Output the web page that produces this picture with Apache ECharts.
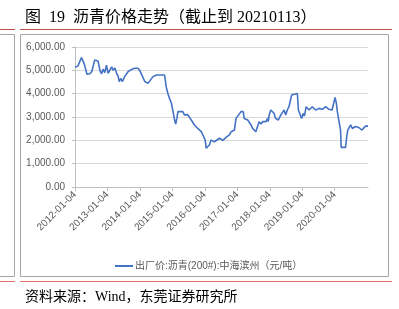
<!DOCTYPE html>
<html><head><meta charset="utf-8">
<script src="https://cdn.jsdelivr.net/npm/echarts@6/dist/echarts.min.js"></script>
<style>html,body{margin:0;padding:0;background:#fff}#c{width:399px;height:309px}</style>
</head><body><div id="c"></div>
<script>
const titleText = '图  19  沥青价格走势（截止到 20210113）';
const sourceText = '资料来源：Wind，东莞证券研究所';
const seriesName = '出厂价:沥青(200#):中海滨州（元/吨）';
const tickLabels = ['2012-01-04','2013-01-04','2014-01-04','2015-01-04','2016-01-04','2017-01-04','2018-01-04','2019-01-04','2020-01-04'];
const yTicks = [0,1000,2000,3000,4000,5000,6000];
const dates = [
'2012-01-04','2012-02-05','2012-03-17','2012-04-15','2012-05-18','2012-06-20','2012-07-11','2012-08-13','2012-09-19','2012-10-11','2012-10-29','2012-11-16','2012-12-04','2012-12-23',
'2013-01-11','2013-01-29','2013-02-20','2013-03-07','2013-03-29','2013-04-16','2013-05-04','2013-05-15','2013-06-02','2013-06-21','2013-07-16','2013-08-22','2013-10-01','2013-11-06','2013-12-13',
'2014-01-01','2014-02-02','2014-02-27','2014-04-05','2014-04-23','2014-05-30','2014-07-09','2014-10-08','2014-10-26','2014-11-14','2014-12-02','2014-12-24',
'2015-01-11','2015-01-29','2015-02-10','2015-02-24','2015-03-07','2015-03-26','2015-05-01','2015-05-19','2015-06-25','2015-08-04','2015-09-10','2015-10-16','2015-11-25','2015-12-13',
'2016-01-08','2016-01-19','2016-02-06','2016-02-24','2016-03-14','2016-04-20','2016-06-18','2016-07-24','2016-08-30','2016-10-05','2016-10-27','2016-11-10','2016-12-02','2016-12-20',
'2017-01-08','2017-02-14','2017-03-11','2017-03-22','2017-05-01','2017-06-07','2017-06-25','2017-07-31','2017-08-19','2017-09-06','2017-09-28','2017-10-16','2017-11-22','2017-12-10','2017-12-17','2017-12-28',
'2018-01-15','2018-02-02','2018-02-20','2018-03-11','2018-04-09','2018-05-09','2018-05-27','2018-06-14','2018-07-02','2018-07-20','2018-08-08','2018-09-06','2018-09-21','2018-11-10','2018-11-22','2018-12-10','2018-12-28',
'2019-01-15','2019-01-29','2019-02-17','2019-03-22','2019-04-27','2019-06-03','2019-07-13','2019-08-19','2019-09-24','2019-10-31','2019-12-06',
'2020-01-08','2020-01-23','2020-02-03','2020-02-21','2020-03-10','2020-03-17','2020-05-05','2020-05-19','2020-05-30','2020-06-14','2020-07-02','2020-07-20','2020-08-26','2020-10-01','2020-11-06','2020-11-24','2020-12-16',
'2021-01-13'
];
const prices = [
5130,5180,5550,5300,4830,4850,4950,5440,5400,5000,4850,5050,4900,5220,
4870,5000,5150,5000,5100,4870,4750,4520,4650,4520,4730,4940,5040,5090,5090,
5000,4730,4520,4440,4520,4730,4800,4800,4300,4010,3800,3590,
3230,2870,2700,2940,3230,3300,3230,3090,3100,2870,2660,2510,2370,2230,
2010,1660,1590,1800,2010,1940,2090,2000,2130,2230,2370,2300,2440,2940,
3010,3230,3230,2940,2870,2660,2510,2370,2590,2800,2700,2800,2800,2940,2800,3090,
3300,3370,3160,2940,2870,3090,3050,3300,3090,3300,3440,3940,4010,4010,3300,3230,2940,
3150,3050,3440,3300,3440,3300,3370,3330,3440,3330,3300,
3840,3590,3230,3190,2440,1700,1700,2160,2440,2440,2660,2510,2590,2550,2440,2370,2610,
2610
];

const chart = echarts.init(document.getElementById('c'), null, {renderer:'canvas'});
const parse = s => Date.UTC(+s.slice(0,4), +s.slice(5,7)-1, +s.slice(8,10));
const tickValues = tickLabels.map(parse);
const cjk = '"Liberation Serif","Noto Sans CJK SC",serif';
const lab = '"Liberation Sans","Noto Sans CJK SC",sans-serif';
chart.setOption({
  animation:false,
  title:[
    {text:titleText,left:20,top:5,textStyle:{fontFamily:cjk,fontSize:16,fontWeight:'normal',color:'#000'}},
    {text:sourceText,left:20,top:285,textStyle:{fontFamily:cjk,fontSize:14,fontWeight:'normal',color:'#000'}}
  ],
  graphic:[
    {type:'line',shape:{x1:0,y1:29.5,x2:15,y2:29.5},style:{stroke:'#c0504d',lineWidth:1}},
    {type:'line',shape:{x1:20,y1:29.5,x2:392,y2:29.5},style:{stroke:'#c0504d',lineWidth:1}},
    {type:'line',shape:{x1:0,y1:281.5,x2:15,y2:281.5},style:{stroke:'#e07070',lineWidth:1}},
    {type:'line',shape:{x1:20,y1:281.5,x2:392,y2:281.5},style:{stroke:'#e07070',lineWidth:1}},
    {type:'polyline',shape:{points:[[0,34.5],[14.5,34.5],[14.5,276.5],[0,276.5]]},style:{stroke:'#a6a6a6',fill:null,lineWidth:1}},
    {type:'rect',shape:{x:20.5,y:34.5,width:368,height:242},style:{stroke:'#a6a6a6',fill:null,lineWidth:1}}
  ],
  legend:{left:110,top:256,itemWidth:18,itemHeight:2,itemGap:4,icon:'rect',
    textStyle:{fontFamily:lab,fontSize:10,color:'#595959',padding:[0,0,0,-3]},data:[seriesName]},
  grid:{left:75,right:31,top:47,bottom:122,containLabel:false},
  xAxis:{type:'value',min:parse('2012-01-04'),max:parse('2021-01-13'),
    axisLine:{lineStyle:{color:'#bfbfbf'}},
    axisTick:{show:true,length:4,lineStyle:{color:'#bfbfbf'},customValues:tickValues},
    splitLine:{show:false},
    axisLabel:{customValues:tickValues,rotate:45,fontSize:10,fontFamily:lab,color:'#595959',margin:6,
      hideOverlap:false,
      formatter:function(v){const i=tickValues.indexOf(v);return i>=0?tickLabels[i]:'';}}
  },
  yAxis:{type:'value',min:yTicks[0],max:yTicks[yTicks.length-1],interval:1000,
    axisLine:{show:true,lineStyle:{color:'#bfbfbf'}},
    axisTick:{show:true,length:3,inside:false,lineStyle:{color:'#bfbfbf'}},
    splitLine:{lineStyle:{color:'#d9d9d9'}},
    axisLabel:{fontSize:10,fontFamily:lab,color:'#595959',margin:10,
      formatter:v=>echarts.format.addCommas(v.toFixed(2))}
  },
  series:[{name:seriesName,type:'line',symbol:'none',
    lineStyle:{color:'#4472c4',width:1.6},itemStyle:{color:'#4472c4'},
    data:dates.map((d,i)=>[parse(d),prices[i]])}]
});
</script></body></html>
